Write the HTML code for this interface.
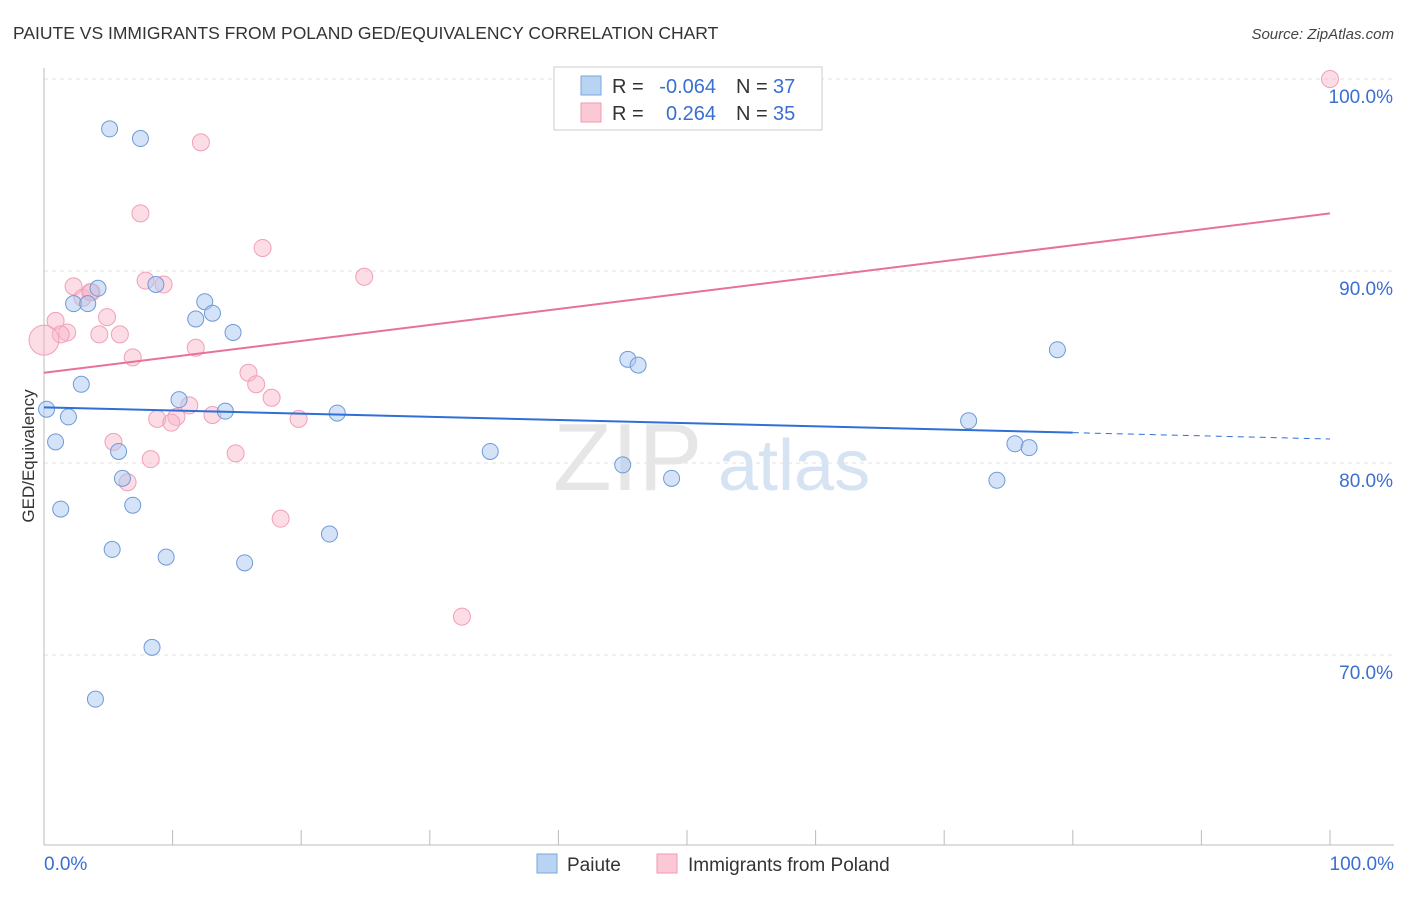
<!DOCTYPE html>
<html><head><meta charset="utf-8"><style>
body{margin:0;background:#fff;font-family:"Liberation Sans",sans-serif;}
svg text{font-family:"Liberation Sans",sans-serif;}
</style></head><body>
<svg id="chart" width="1406" height="892" xmlns="http://www.w3.org/2000/svg">
<text x="13" y="39" font-size="17.5" fill="#333">PAIUTE VS IMMIGRANTS FROM POLAND GED/EQUIVALENCY CORRELATION CHART</text>
<text x="1394" y="39" font-size="15" fill="#444" text-anchor="end" font-style="italic">Source: ZipAtlas.com</text>
<g id="grid"></g>
<text x="553" y="490" font-size="96" fill="#e6e6e6" font-family="Liberation Serif">ZIP</text>
<text x="718" y="490" font-size="72" fill="#d5e3f3">atlas</text>
<line x1="44" y1="68" x2="44" y2="845" stroke="#bbb"/>
<line x1="44" y1="845" x2="1394" y2="845" stroke="#bbb"/>
<text transform="translate(34,456) rotate(-90)" font-size="17" fill="#333" text-anchor="middle">GED/Equivalency</text>
<g id="ticks"></g>
<g id="pts"></g>
<g id="trend"></g>
<g>
<rect x="554" y="67" width="268" height="63" fill="#fff" stroke="#ccc"/>
<rect x="581" y="76" width="20" height="19" fill="#b9d3f3" stroke="#7aa6de"/>
<rect x="581" y="103" width="20" height="19" fill="#fbc9d6" stroke="#ee9ab2"/>
<g font-size="20">
<text x="612" y="93" fill="#333">R =</text><text x="716" y="93" fill="#3a6fd0" text-anchor="end">-0.064</text>
<text x="736" y="93" fill="#333">N =</text><text x="773" y="93" fill="#3a6fd0">37</text></g>
<g font-size="20">
<text x="612" y="120" fill="#333">R =</text><text x="716" y="120" fill="#3a6fd0" text-anchor="end">0.264</text>
<text x="736" y="120" fill="#333">N =</text><text x="773" y="120" fill="#3a6fd0">35</text></g>
</g>
<g>
<rect x="537" y="854" width="20" height="19" fill="#b9d3f3" stroke="#7aa6de"/>
<text x="567" y="871" font-size="19" fill="#333">Paiute</text>
<rect x="657" y="854" width="20" height="19" fill="#fbc9d6" stroke="#ee9ab2"/>
<text x="688" y="871" font-size="19" fill="#333">Immigrants from Poland</text>
</g>
</svg>
<script>
const xTicks=[0,10,20,30,40,50,60,70,80,90,100];
const yTicks=[70,80,90,100];
const blueX=[5.1,7.5,4.2,2.3,3.4,8.7,12.5,13.1,11.8,14.7,2.9,0.2,1.9,0.9,10.5,14.1,22.8,5.8,6.1,1.3,6.9,5.3,9.5,15.6,22.2,8.4,4.0,34.7,45.4,46.2,45.0,48.8,71.9,78.8,75.5,76.6,74.1];
const blueY=[97.4,96.9,89.1,88.3,88.3,89.3,88.4,87.8,87.5,86.8,84.1,82.8,82.4,81.1,83.3,82.7,82.6,80.6,79.2,77.6,77.8,75.5,75.1,74.8,76.3,70.4,67.7,80.6,85.4,85.1,79.9,79.2,82.2,85.9,81.0,80.8,79.1];
const pinkX=[100,12.2,7.5,17.0,24.9,7.9,9.3,2.3,3.0,3.7,4.9,0.9,1.8,1.3,4.3,5.9,11.8,6.9,15.9,16.5,17.7,11.3,10.3,8.8,9.9,13.1,19.8,5.4,8.3,14.9,6.5,18.4,32.5,0,3.6];
const pinkY=[100,96.7,93.0,91.2,89.7,89.5,89.3,89.2,88.6,88.9,87.6,87.4,86.8,86.7,86.7,86.7,86.0,85.5,84.7,84.1,83.4,83.0,82.4,82.3,82.1,82.5,82.3,81.1,80.2,80.5,79.0,77.1,72.0,86.4,88.9];
const blueTrend=[82.9,81.25];
const pinkTrend=[84.7,93.0];
const X=v=>44+v*12.86, Y=v=>79+(100-v)*19.2;
const NS="http://www.w3.org/2000/svg";
function mk(t,a,p){const e=document.createElementNS(NS,t);for(const k in a)e.setAttribute(k,a[k]);document.getElementById(p).appendChild(e);return e;}
yTicks.forEach(t=>{
 const l=mk('line',{x1:44,x2:1394,y1:Y(t),y2:Y(t),stroke:'#e0e0e0','stroke-dasharray':'4,4'},'grid');
 
 
 const tx=mk('text',{x:1393,y:Y(t)+24,'font-size':19,fill:'#3a6fd0','text-anchor':'end'},'ticks');
 tx.textContent=t.toFixed(1)+'%';
 
 
});
xTicks.forEach(t=>{
 const l=mk('line',{x1:X(t),x2:X(t),y1:830,y2:845,stroke:'#bbb'},'ticks');
 
 
});
[[0,'start',44],[100,'end',1394]].forEach(([t,a,x])=>{
 const tx=mk('text',{x:x,y:870,'font-size':19,fill:'#3a6fd0','text-anchor':a},'ticks');
 tx.textContent=t.toFixed(1)+'%';
 
 
});
pinkX.forEach((x,i)=>{
 const r=(i==pinkX.length-2)?15:8.5;
 const c=mk('circle',{cx:X(x),cy:Y(pinkY[i]),r:r,fill:'rgba(249,180,200,0.45)',stroke:'#f0a0b8','stroke-width':1},'pts');
 
 
});
blueX.forEach((x,i)=>{
 const c=mk('circle',{cx:X(x),cy:Y(blueY[i]),r:8,fill:'rgba(170,200,240,0.5)',stroke:'#6f9ad6','stroke-width':1},'pts');
 
 
});
const by=v=>blueTrend[0]+(blueTrend[1]-blueTrend[0])*v/100;
let l=mk('line',{x1:X(0),y1:Y(by(0)),x2:X(80),y2:Y(by(80)),stroke:'#2f6fd6','stroke-width':2},'trend');


l=mk('line',{x1:X(80),y1:Y(by(80)),x2:X(100),y2:Y(by(100)),stroke:'#2f6fd6','stroke-width':1,'stroke-dasharray':'6,5'},'trend');


l=mk('line',{x1:X(0),y1:Y(pinkTrend[0]),x2:X(100),y2:Y(pinkTrend[1]),stroke:'#e8719a','stroke-width':2},'trend');


</script>
</body></html>
